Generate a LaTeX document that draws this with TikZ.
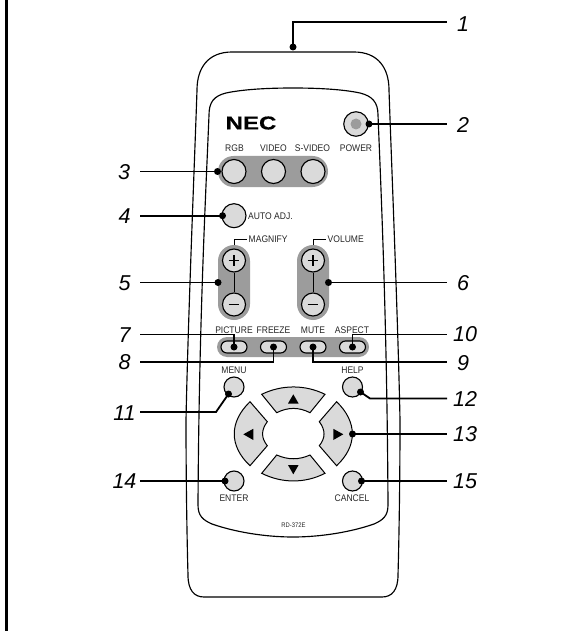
\documentclass[tikz,border=0pt]{standalone}
\usepackage{fontspec}
\setmainfont{Liberation Sans}
\newfontfamily\narrowsans[FakeStretch=0.89]{Liberation Sans}
\newfontfamily\logosans[FakeBold=0.6,FakeStretch=1.3]{Liberation Sans Bold}
\begin{document}
\begin{tikzpicture}[x=1pt,y=-1pt,
  outline/.style={line width=1.15pt,draw=black},
  padgray/.style={fill=padcol,draw=none},
  roundbtn/.style={circle,draw=black,line width=1.15pt,fill=btncol,inner sep=0pt,minimum size=#1},
  pillbtn/.style={draw=black,line width=1.15pt,fill=btncol,rounded corners=6pt,inner sep=0pt,minimum width=26pt,minimum height=12pt},
  keyshape/.style={draw=black,line width=1pt,fill=btncol},
  tri/.style={fill=black,draw=none},
  tinytext/.style={font=\narrowsans\fontsize{9.6}{10}\selectfont,inner sep=0pt,text=black!85},
  numlabel/.style={font=\fontsize{21.5}{22}\selectfont\itshape,inner sep=0pt},
  dotmark/.style={circle,fill=black,inner sep=0pt,minimum size=7pt},
  leader/.style={line width=1.8pt},
  thinleader/.style={line width=1pt}]
\definecolor{padcol}{HTML}{9C9C9C}
\definecolor{btncol}{HTML}{DADADA}
\useasboundingbox (0,0) rectangle (573,631);
\fill[white] (0,0) rectangle (573,631);
\draw[line width=2.2pt] (6.5,0) -- (6.5,631);
% body
\draw[outline] (293,52) -- (232,52) .. controls (208,52) and (197,68) .. (197,90)
  .. controls (195,150) and (188,320) .. (186,420)
  .. controls (186,480) and (187,540) .. (188,575)
  .. controls (188,590) and (194,597) .. (204,597)
  -- (382,597) .. controls (392,597) and (398,590) .. (398,575)
  .. controls (399,540) and (400,480) .. (400,420)
  .. controls (398,320) and (391,150) .. (389,90)
  .. controls (389,68) and (378,52) .. (354,52) -- cycle;
% panel
\draw[outline] (293,88) .. controls (262,88) and (240,90) .. (226,93)
  .. controls (214,96) and (209,102) .. (209,115)
  .. controls (206,190) and (199,320) .. (198,505)
  .. controls (198,516) and (203,520) .. (212,524)
  .. controls (235,532) and (265,537) .. (293,537)
  .. controls (321,537) and (351,532) .. (374,524)
  .. controls (383,520) and (388,516) .. (388,505)
  .. controls (387,320) and (381,190) .. (378,115)
  .. controls (378,102) and (372,96) .. (360,93)
  .. controls (346,90) and (324,88) .. (293,88) -- cycle;
% gray pads
\fill[padgray] (233.5,156) -- (312.5,156) arc (-90:90:15.5) -- (233.5,187) arc (90:270:15.5) -- cycle;
\fill[padgray] (218,261) arc (180:360:16) -- (250,304) arc (0:180:16) -- cycle;
\fill[padgray] (297,261) arc (180:360:16) -- (329,304) arc (0:180:16) -- cycle;
\fill[padgray] (227,337) -- (359,337) arc (-90:90:10) -- (227,357) arc (90:270:10) -- cycle;
% NEC
\node[inner sep=0pt,font=\logosans\fontsize{18.5}{19}\selectfont] (nec) at (251,123) {NEC};
% power
\node[roundbtn=24.5pt] (power) at (356,124) {};
\node[circle,fill=padcol,inner sep=0pt,minimum size=11pt] (powerin) at (356,124) {};
% top row
\node[roundbtn=24pt] (rgb) at (234,171.5) {};
\node[roundbtn=24pt] (video) at (273.5,171.5) {};
\node[roundbtn=24pt] (svideo) at (313,171.5) {};
\node[roundbtn=24pt] (auto) at (234,215.7) {};
% plus/minus
\node[roundbtn=23pt] (mplus) at (234,260.5) {};
\node[roundbtn=23pt] (mminus) at (234,304.5) {};
\node[roundbtn=23pt] (vplus) at (313,260.5) {};
\node[roundbtn=23pt] (vminus) at (313,304.5) {};
\draw[thinleader] (mplus) -- (mminus);
\draw[thinleader] (vplus) -- (vminus);
\foreach \n in {mplus,vplus}{\draw[line width=1.7pt] (\n.center) ++(-5.3,0) -- ++(10.6,0) (\n.center) ++(0,-5.3) -- ++(0,10.6);}
\foreach \n in {mminus,vminus}{\draw[line width=1.7pt] (\n.center) ++(-5.3,0) -- ++(10.6,0);}
% pills
\node[pillbtn] (pic) at (234,347) {};
\node[pillbtn] (frz) at (273.5,347) {};
\node[pillbtn] (mute) at (313,347) {};
\node[pillbtn] (asp) at (352.5,347) {};
% small round
\node[roundbtn=20pt] (menu) at (234,387) {};
\node[roundbtn=20pt] (help) at (352.5,387) {};
\node[roundbtn=20pt] (enter) at (234,481) {};
\node[roundbtn=20pt] (cancel) at (352.5,481) {};
% direction keys
\draw[keyshape] (261.7,394.3) .. controls (282,384.5) and (305,384.5) .. (325,394.3) -- (310,412.7) .. controls (299,407) and (288,407) .. (276.7,412.7) -- cycle;
\draw[keyshape] (261.7,473.3) .. controls (282,483.5) and (305,483.5) .. (325,473.3) -- (310,455) .. controls (299,460) and (288,460) .. (276.7,455) -- cycle;
\draw[keyshape] (250,401.7) .. controls (229,422) and (229,446) .. (250,465.7) -- (267.3,445.7) .. controls (261,438) and (261,430) .. (267.3,421.7) -- cycle;
\draw[keyshape] (336.6,401.7) .. controls (357.6,422) and (357.6,446) .. (336.6,465.7) -- (319.3,445.7) .. controls (325.6,438) and (325.6,430) .. (319.3,421.7) -- cycle;
\fill[tri] (293.3,394.3) -- (298.6,403.5) -- (288,403.5) -- cycle;
\fill[tri] (293.3,474.3) -- (298.6,465) -- (288,465) -- cycle;
\fill[tri] (243.3,434.3) -- (253.3,428.8) -- (253.3,440) -- cycle;
\fill[tri] (343.3,434.3) -- (333.3,428.8) -- (333.3,440) -- cycle;
% button texts
\node[tinytext] (trgb) at (234.5,148) {RGB};
\node[tinytext] (tvideo) at (273.5,148) {VIDEO};
\node[tinytext] (tsvideo) at (312.5,148) {S-VIDEO};
\node[tinytext] (tpower) at (356,148) {POWER};
\node[tinytext,anchor=west] (tauto) at (248,216.5) {AUTO ADJ.};
\node[tinytext,anchor=west] (tmag) at (248.5,239) {MAGNIFY};
\node[tinytext,anchor=west] (tvol) at (327.5,239) {VOLUME};
\coordinate (bm) at (234,245);
\coordinate (bv) at (313,245);
\draw[thinleader,shorten >=1.5pt] (bm) |- (tmag.west);
\draw[thinleader,shorten >=1.5pt] (bv) |- (tvol.west);
\node[tinytext] (tpic) at (234,330) {PICTURE};
\node[tinytext] (tfrz) at (273.5,330) {FREEZE};
\node[tinytext] (tmute) at (313,330) {MUTE};
\node[tinytext] (tasp) at (352,330) {ASPECT};
\node[tinytext] (tmenu) at (234,370) {MENU};
\node[tinytext] (thelp) at (352.5,370) {HELP};
\node[tinytext] (tenter) at (234,498) {ENTER};
\node[tinytext] (tcancel) at (352,498) {CANCEL};
\node[inner sep=0pt,font=\narrowsans\fontsize{6.6}{7}\selectfont,text=black!85] (rd) at (293.5,525.5) {RD-372E};
% numbers
\node[numlabel] (n1) at (463,24) {1};
\node[numlabel] (n2) at (463,125) {2};
\node[numlabel] (n3) at (124,172) {3};
\node[numlabel] (n4) at (124.5,216) {4};
\node[numlabel] (n5) at (124.5,283) {5};
\node[numlabel] (n6) at (463,283) {6};
\node[numlabel] (n7) at (124.5,335) {7};
\node[numlabel] (n8) at (124.5,362) {8};
\node[numlabel] (n9) at (463,363) {9};
\node[numlabel] (n10) at (465,334) {10};
\node[numlabel] (n11) at (124.5,413) {11};
\node[numlabel] (n12) at (465,399) {12};
\node[numlabel] (n13) at (465,434) {13};
\node[numlabel] (n14) at (124.5,481) {14};
\node[numlabel] (n15) at (465,481) {15};
% dots
\node[dotmark] (d1) at (293,47) {};
\node[dotmark] (d2) at (369,124) {};
\node[dotmark] (d3) at (217.5,171.5) {};
\node[dotmark] (d4) at (222.5,215.7) {};
\node[dotmark] (d5) at (218,282.5) {};
\node[dotmark] (d6) at (328.5,282.5) {};
\node[dotmark] (d7) at (234,347) {};
\node[dotmark] (d8) at (273.5,347) {};
\node[dotmark] (d9) at (313,347) {};
\node[dotmark] (d10) at (352.5,347) {};
\node[dotmark] (d11) at (228.5,394) {};
\node[dotmark] (d12) at (360.5,392) {};
\node[dotmark] (d13) at (352.5,434) {};
\node[dotmark] (d14) at (225,481) {};
\node[dotmark] (d15) at (361.5,481) {};
% free ends
\coordinate (e1) at (447,22);
\coordinate (e2) at (447,124);
\coordinate (e3) at (140,171.5);
\coordinate (e4) at (140,215.7);
\coordinate (e5) at (140,282.5);
\coordinate (e6) at (447,282.5);
\coordinate (e7) at (140,334.5);
\coordinate (e8) at (140,361.7);
\coordinate (e9) at (447,361.7);
\coordinate (e10) at (447,334.5);
\coordinate (e11) at (140,412);
\coordinate (e12) at (447,398.5);
\coordinate (e13) at (447,434);
\coordinate (e14) at (140,481);
\coordinate (e15) at (447,481);
\coordinate (k11) at (216,412);
\coordinate (k12) at (370,398.5);
\draw[leader] (d1.center) |- (e1);
\draw[leader] (d2.center) -- (e2);
\draw[leader] (d3.center) -- (e3);
\draw[leader] (d4.center) -- (e4);
\draw[leader] (d5.center) -- (e5);
\draw[leader] (d6.center) -- (e6);
\draw[leader] (d7.center) |- (e7);
\draw[leader] (d8.center) |- (e8);
\draw[leader] (d9.center) |- (e9);
\draw[leader] (d10.center) |- (e10);
\draw[leader] (d11.center) -- (k11) -- (e11);
\draw[leader] (d12.center) -- (k12) -- (e12);
\draw[leader] (d13.center) -- (e13);
\draw[leader] (d14.center) -- (e14);
\draw[leader] (d15.center) -- (e15);
\end{tikzpicture}
\end{document}
